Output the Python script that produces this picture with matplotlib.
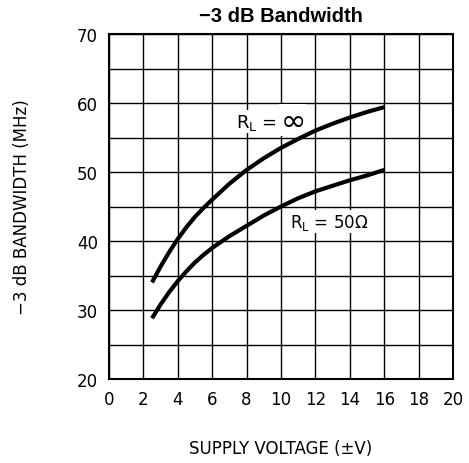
#!/usr/bin/env python3

import numpy as np
import matplotlib.pyplot as plt

# supply voltage (+/- V)
vs = [2.5, 3, 3.5, 4, 4.5, 5, 5.5, 6, 7, 8, 9, 10, 11, 12, 13, 14, 15, 16]
# -3 dB bandwidth (MHz), RL = infinity
bw_inf = [34.0, 36.3, 38.4, 40.3, 42.0, 43.5, 44.8, 46.0, 48.3, 50.3,
          52.0, 53.5, 54.8, 56.0, 57.0, 57.9, 58.7, 59.4]
# -3 dB bandwidth (MHz), RL = 50 ohm
bw_50 = [28.8, 30.8, 32.6, 34.2, 35.6, 36.9, 38.0, 39.0, 40.7, 42.2,
         43.7, 45.0, 46.2, 47.2, 48.0, 48.8, 49.5, 50.3]

xticks = list(range(0, 21, 2))
yticks = [20, 30, 40, 50, 60, 70]


def main():
    fig = plt.figure(figsize=(4.69, 4.64), dpi=100)
    ax = fig.add_axes([109/469, 1 - 380/464, 344/469, 345/464])

    ax.plot(vs, bw_inf, color='black', lw=3, solid_capstyle='butt', zorder=4)
    ax.plot(vs, bw_50, color='black', lw=3, solid_capstyle='butt', zorder=4)

    ax.set_xlim(0, 20)
    ax.set_ylim(20, 70)
    ax.set_xticks(xticks)
    ax.set_yticks(yticks)
    ax.set_yticks(np.arange(20, 71, 5), minor=True)
    ax.grid(True, which='both', color='black', lw=1.0)
    ax.tick_params(which='both', length=0, labelsize=12, pad=8)
    for s in ax.spines.values():
        s.set_linewidth(1.5)
        s.set_zorder(5)

    box = dict(facecolor='white', edgecolor='none', pad=1)
    ax.text(9.75, 57.3, r'R$_\mathregular{L}$ =', fontsize=13, ha='right', va='center', bbox=box)
    ax.text(9.95, 57.5, r'$\infty$', fontsize=22, ha='left', va='center', bbox=box)
    ax.text(12.8, 42.8, r'R$_\mathregular{L}$ = 50$\Omega$', fontsize=12, ha='center', va='center',
            bbox=box)

    ax.set_title('\u22123 dB Bandwidth', fontsize=14.5, fontweight='bold',
                 family='Liberation Sans', y=1.0, pad=9)
    ax.set_xlabel('SUPPLY VOLTAGE (\u00b1V)', fontsize=12, labelpad=22)
    ax.set_ylabel('\u22123 dB BANDWIDTH (MHz)', fontsize=12, labelpad=33)

    fig.savefig('out.png', dpi=100)


if __name__ == "__main__":
    main()
